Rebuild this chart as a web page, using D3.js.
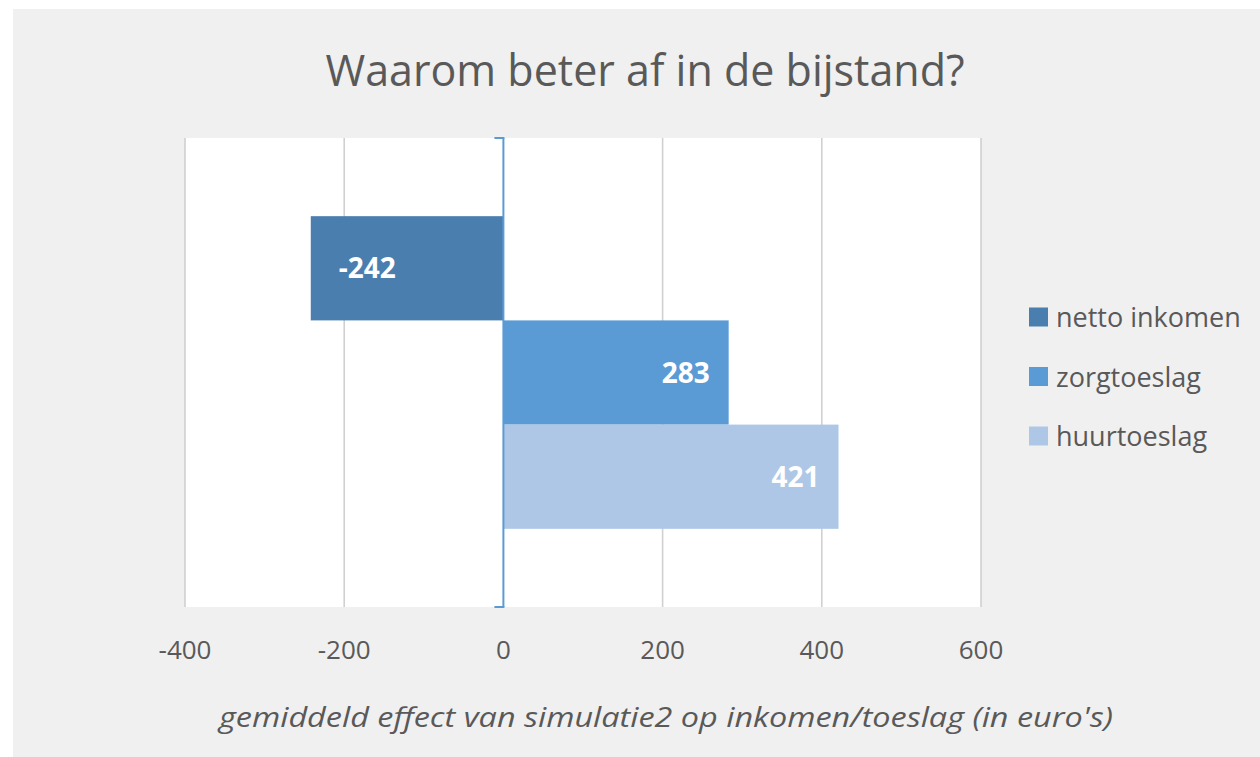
<!DOCTYPE html>
<html>
<head>
<meta charset="utf-8">
<script src="https://cdn.jsdelivr.net/npm/d3@7"></script>
<style>
  body { margin: 0; background: #fff; }
  svg { display: block; }
</style>
</head>
<body>
<svg id="chart"></svg>
<script>
  // data
  var series = ["netto inkomen", "zorgtoeslag", "huurtoeslag"];
  var values = [-242, 283, 421];
  var colors = ["#4a7eaf", "#5b9bd5", "#aec7e6"];
  var xTicks = [-400, -200, 0, 200, 400, 600];
  var titleText = "Waarom beter af in de bijstand?";
  var axisTitle = "gemiddeld effect van simulatie2 op inkomen/toeslag (in euro's)";

  var W = 1260, H = 757;
  var plot = { left: 185, right: 981, top: 138, bottom: 607 };
  var grey = "#595959";

  var svg = d3.select("#chart").attr("width", W).attr("height", H);

  // chart background
  svg.append("rect")
      .attr("x", 13).attr("y", 9)
      .attr("width", W - 13).attr("height", H - 9)
      .attr("fill", "#f0f0f0");

  svg.append("rect")
      .attr("x", plot.left).attr("y", plot.top)
      .attr("width", plot.right - plot.left).attr("height", plot.bottom - plot.top)
      .attr("fill", "#fff");

  var x = d3.scaleLinear().domain([-400, 600]).range([plot.left, plot.right]);
  var y = d3.scaleBand().domain(series)
      .range([plot.top, plot.bottom])
      .paddingInner(0).paddingOuter(0.75);

  // gridlines
  svg.append("g").selectAll("line")
      .data(xTicks.filter(function(d){ return d != 0; }))
      .join("line")
      .attr("x1", function(d){ return x(d); })
      .attr("x2", function(d){ return x(d); })
      .attr("y1", plot.top).attr("y2", plot.bottom)
      .attr("stroke", "#d0d0d0").attr("stroke-width", 1.6);

  // bars
  svg.append("g").selectAll("rect")
      .data(series)
      .join("rect")
      .attr("x", function(d, i){ return Math.min(x(0), x(values[i])); })
      .attr("y", function(d){ return y(d); })
      .attr("width", function(d, i){ return Math.abs(x(values[i]) - x(0)); })
      .attr("height", y.bandwidth())
      .attr("fill", function(d, i){ return colors[i]; });

  // value labels
  svg.append("g").selectAll("text")
      .data(series)
      .join("text")
      .attr("x", function(d, i){ return values[i] < 0 ? x(values[i]) + 28 : x(values[i]) - 19; })
      .attr("y", function(d){ return y(d) + y.bandwidth() / 2 + 10; })
      .attr("text-anchor", function(d, i){ return values[i] < 0 ? "start" : "end"; })
      .attr("font-family", "'Open Sans', sans-serif")
      .attr("font-weight", "bold")
      .attr("font-size", 28)
      .attr("fill", "#fff")
      .text(function(d, i){ return values[i]; });

  // vertical category axis at zero
  var ax = svg.append("g").attr("fill", "none").attr("stroke", "#5b9bd5").attr("stroke-width", 2);
  ax.append("line")
      .attr("x1", x(0)).attr("x2", x(0))
      .attr("y1", plot.top).attr("y2", plot.bottom);
  ax.selectAll("line.tk")
      .data([plot.top, plot.bottom])
      .join("line").attr("class", "tk")
      .attr("x1", x(0) - 9).attr("x2", x(0) + 1)
      .attr("y1", function(d){ return d; }).attr("y2", function(d){ return d; });

  // x tick labels
  svg.append("g").selectAll("text")
      .data(xTicks)
      .join("text")
      .attr("x", function(d){ return x(d); })
      .attr("y", 659)
      .attr("text-anchor", "middle")
      .attr("font-family", "'Open Sans', sans-serif")
      .attr("font-size", 26)
      .attr("fill", grey)
      .text(function(d){ return d; });

  // title
  svg.append("text")
      .attr("x", 645).attr("y", 86)
      .attr("text-anchor", "middle")
      .attr("font-family", "'Open Sans', sans-serif")
      .attr("font-size", 43)
      .attr("fill", grey)
      .text(titleText);

  // axis title
  svg.append("text")
      .attr("x", 666).attr("y", 727)
      .attr("text-anchor", "middle")
      .attr("font-family", "'Open Sans', sans-serif")
      .attr("font-style", "italic")
      .attr("font-size", 28)
      .attr("fill", grey)
      .attr("textLength", 894)
      .attr("lengthAdjust", "spacingAndGlyphs")
      .text(axisTitle);

  // legend
  var lg = svg.append("g").selectAll("g")
      .data(series)
      .join("g")
      .attr("transform", function(d, i){ return "translate(1029," + (317 + i * 59.5) + ")"; });
  lg.append("rect")
      .attr("x", 0).attr("y", -9.5)
      .attr("width", 19).attr("height", 19)
      .attr("fill", function(d, i){ return colors[i]; });
  lg.append("text")
      .attr("x", 27).attr("y", 10)
      .attr("font-family", "'Open Sans', sans-serif")
      .attr("font-size", 27)
      .attr("fill", grey)
      .text(function(d){ return d; });
</script>
</body>
</html>
